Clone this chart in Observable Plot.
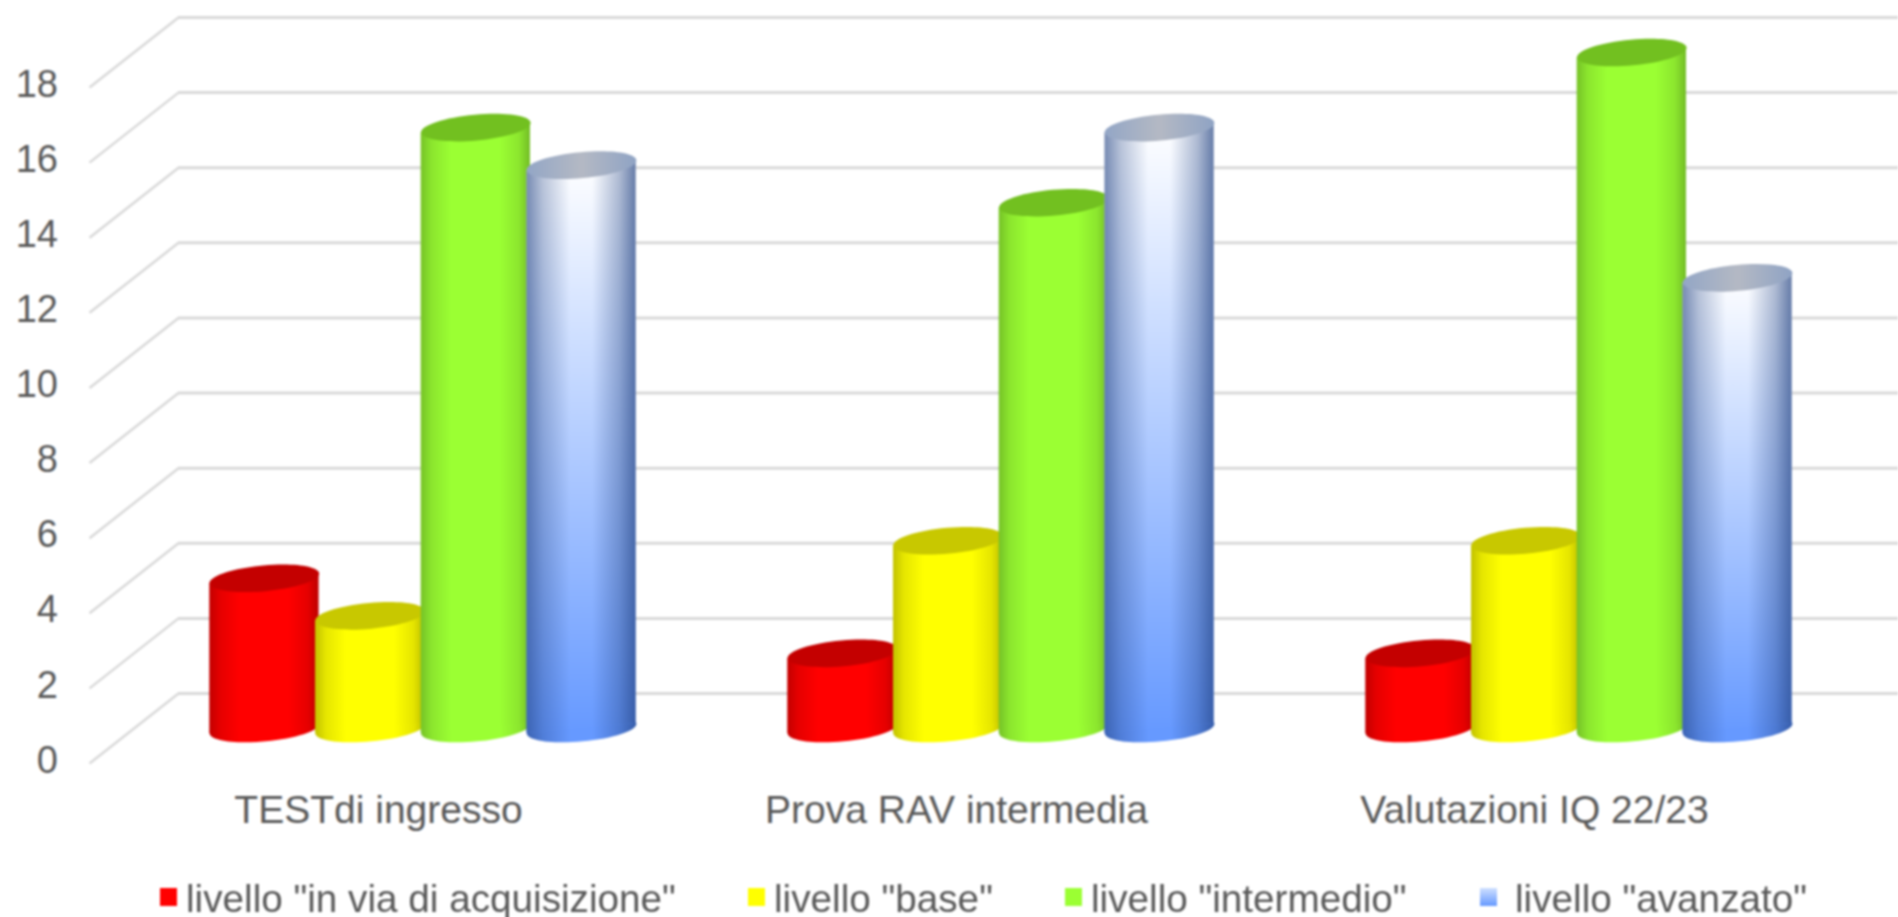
<!DOCTYPE html>
<html>
<head>
<meta charset="utf-8">
<script src="https://cdn.jsdelivr.net/npm/d3@7"></script>
<script src="https://cdn.jsdelivr.net/npm/@observablehq/plot@0.6"></script>
<style>
  html, body { margin: 0; padding: 0; background: #fff; width: 1898px; height: 917px; overflow: hidden; }
  #wrap { filter: blur(0.8px); font-family: "Liberation Sans", Arial, sans-serif; color: #595959; }
  #wrap svg { display: block; background: #fff; }
  #legend { position: relative; height: 57px; font-size: 38.7px; line-height: 57px; }
  #legend span.t { position: absolute; top: 10px; white-space: pre; }
  #legend span.s { position: absolute; top: 28px; width: 17px; height: 18px; }
</style>
</head>
<body>
<div id="wrap"><div id="chart"></div><div id="legend"></div></div>
<script>
const categories = ["TESTdi ingresso", "Prova RAV intermedia", "Valutazioni IQ 22/23"];
const levels = ['livello "in via di acquisizione"', 'livello "base"', 'livello "intermedio"', 'livello "avanzato"'];
const acquisizione = [4, 2, 2];
const base = [3, 5, 5];
const intermedio = [16, 14, 18];
const avanzato = [15, 16, 12];
const yTicks = [0, 2, 4, 6, 8, 10, 12, 14, 16, 18];
const seriesValues = [acquisizione, base, intermedio, avanzato];

const palette = [
  {body: "#ff0000", cap: "#c40000", shade: "url(#shade)"},
  {body: "#ffff00", cap: "#c8c800", shade: "url(#shade)"},
  {body: "#9bff33", cap: "#72c020", shade: "url(#shade)"},
  {body: "url(#blueBody)", bottom: "#6699ff", cap: "url(#blueCap)", shade: "url(#shadeBlue)"}
];
const legendLefts = [{s: 160, t: 186}, {s: 748, t: 774}, {s: 1065, t: 1091}, {s: 1480, t: 1515}];

// oblique projection: half depth of the floor, in data units of each scale
const depthX = 0.077, depthY = 0.932;
const step = 0.1829, half = 0.0945;
// vertical rise of a cap's ends (tilt of the ellipse), in y units
const tilt = 0.135;

function rows(i) {
  return categories.map((c, g) => ({
    category: c,
    value: seriesValues[i][g],
    center: g + 0.5 + (i - 1.5) * step
  }));
}

// tilted ellipse as a dot symbol
const capSymbol = {
  draw(ctx, size) {
    const r = Math.sqrt(size / Math.PI);
    const a = r, b = r * 0.235, t = -5.2 * Math.PI / 180, k = 0.5523;
    const c = Math.cos(t), s = Math.sin(t);
    const P = (u, v) => [u * a * c - v * b * s, u * a * s + v * b * c];
    ctx.moveTo(...P(1, 0));
    ctx.bezierCurveTo(...P(1, k), ...P(k, 1), ...P(0, 1));
    ctx.bezierCurveTo(...P(-k, 1), ...P(-1, k), ...P(-1, 0));
    ctx.bezierCurveTo(...P(-1, -k), ...P(-k, -1), ...P(0, -1));
    ctx.bezierCurveTo(...P(k, -1), ...P(1, -k), ...P(1, 0));
    ctx.closePath();
  }
};

function defs() {
  const d = d3.create("svg:defs");
  const grad = (id, x2, y2, stops) => {
    const g = d.append("linearGradient").attr("id", id)
      .attr("x1", 0).attr("y1", 0).attr("x2", x2).attr("y2", y2);
    for (const [o, col, op] of stops)
      g.append("stop").attr("offset", o).attr("stop-color", col).attr("stop-opacity", op);
  };
  grad("shade", 1, 0, [
    [0, "#000", 0.24], [0.1, "#000", 0.1], [0.28, "#000", 0],
    [0.72, "#000", 0], [0.9, "#000", 0.1], [1, "#000", 0.26]
  ]);
  grad("shadeBlue", 1, 0, [
    [0, "#1f3f7f", 0.6], [0.15, "#1f3f7f", 0.3], [0.4, "#1f3f7f", 0],
    [0.6, "#1f3f7f", 0], [0.85, "#1f3f7f", 0.35], [1, "#1f3f7f", 0.68]
  ]);
  grad("blueBody", 0, 1, [[0, "#ffffff", 1], [0.3, "#d0e0ff", 1], [0.7, "#94b8ff", 1], [1, "#6699ff", 1]]);
  grad("blueCap", 1, 0, [[0, "#93a6c6", 1], [0.5, "#b4b9c4", 1], [1, "#8fa3c4", 1]]);
  return d.node();
}

const rh = 55;
const cylinder = (i) => {
  const data = rows(i), col = palette[i];
  // body edges follow the tilt of the caps, so no corner shows beyond an ellipse
  const outline = data.flatMap((d, g) => [
    {g, x: d.center - half, y1: -tilt, y2: d.value - tilt},
    {g, x: d.center + half, y1: tilt, y2: d.value + tilt}
  ]);
  const body = (fill) => Plot.areaY(outline, {x: "x", y1: "y1", y2: "y2", z: "g", fill, curve: "linear"});
  const foot = (fill) => Plot.dot(data, {
    x: "center", y: () => 0, r: rh, symbol: capSymbol, fill, stroke: "none"
  });
  return [
    foot(col.bottom || col.body), foot(col.shade),
    body(col.body), body(col.shade),
    Plot.dot(data, {x: "center", y: "value", r: rh, symbol: capSymbol, fill: col.cap, stroke: "none"})
  ];
};

const chart = Plot.plot({
  width: 1898,
  height: 860,
  marginLeft: 133.5,
  marginRight: 30.5,
  marginTop: 0,
  marginBottom: 60,
  x: {type: "linear", domain: [0, 3], range: [133.5, 1867.5]},
  y: {type: "linear", domain: [0, 18], range: [728, 52]},
  style: {fontFamily: "'Liberation Sans', Arial, sans-serif", fontSize: "38px", color: "#595959", background: "#fff"},
  marks: [
    defs,
    Plot.ruleY(yTicks, {y: d => d + depthY, x1: () => depthX, x2: () => 3.2, stroke: "#d9d9d9", strokeWidth: 3}),
    Plot.link(yTicks, {
      x1: () => -depthX, y1: d => d - depthY,
      x2: () => depthX, y2: d => d + depthY,
      stroke: "#d9d9d9", strokeWidth: 2.5
    }),
    Plot.axisY({ticks: yTicks, tickFormat: d => String(d), tickSize: 0, tickPadding: 76, dy: 32, label: null, stroke: "none", fontSize: 38}),
    Plot.axisX({ticks: [0.5, 1.5, 2.5], tickFormat: d => categories[Math.floor(d)], tickSize: 0, tickPadding: 0, dy: -5, dx: -44.5, label: null, stroke: "none", fontSize: 39}),
    ...levels.flatMap((_, i) => cylinder(i))
  ]
});
document.getElementById("chart").appendChild(chart);

const legend = document.getElementById("legend");
levels.forEach((name, i) => {
  const sw = document.createElement("span");
  sw.className = "s";
  sw.style.left = legendLefts[i].s + "px";
  sw.style.background = i === 3 ? "linear-gradient(#cfe0ff,#6699ff)" : palette[i].body;
  const t = document.createElement("span");
  t.className = "t";
  t.style.left = legendLefts[i].t + "px";
  t.textContent = name;
  legend.append(sw, t);
});
</script>
</body>
</html>
